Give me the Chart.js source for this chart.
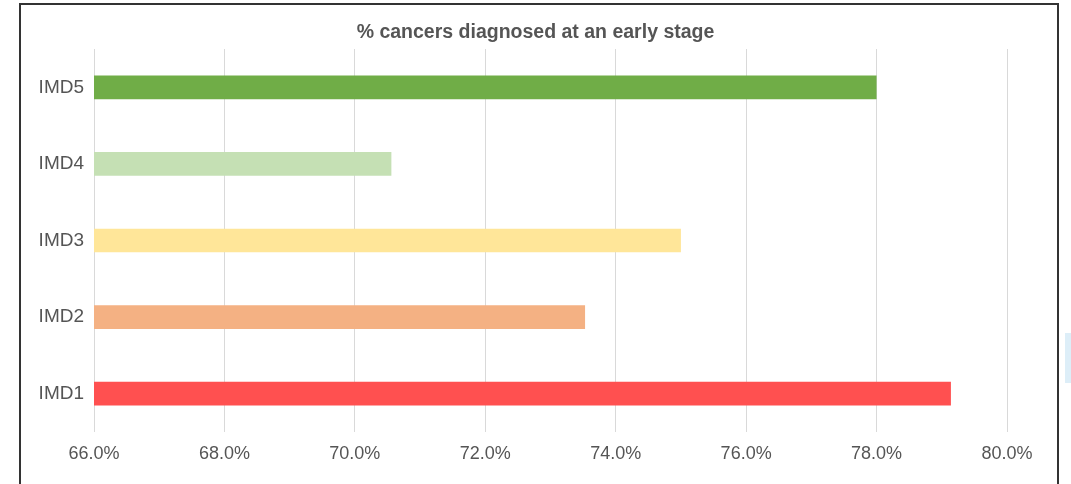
<!DOCTYPE html>
<html>
<head>
<meta charset="utf-8">
<script src="https://cdn.jsdelivr.net/npm/chart.js@4/dist/chart.umd.min.js"></script>
<style>
  html, body { margin: 0; padding: 0; background: #ffffff; overflow: hidden; }
  #wrap { position: absolute; left: 0; top: 0; width: 1071px; height: 484px; }
  #frame { position: absolute; left: 19px; top: 3px; width: 1036px; height: 500px; border: 2px solid #333; pointer-events: none; }
  #blue { position: absolute; left: 1065px; top: 333px; width: 6px; height: 50px; background: #ddeef8; }
</style>
</head>
<body>
<div id="wrap">
  <canvas id="c" width="1071" height="484"></canvas>
  <div id="frame"></div>
  <div id="blue"></div>
</div>
<script>
const title = '% cancers diagnosed at an early stage';
const categories = ['IMD5', 'IMD4', 'IMD3', 'IMD2', 'IMD1'];
const values = [78.0, 70.56, 75.0, 73.53, 79.14];
const barColors = ['#70AD47', '#C5E0B4', '#FFE699', '#F4B183', '#FF5050'];
const xMin = 66;
const xMax = 80;
const xStep = 2;

const FONT = 'Liberation Sans, Arial, sans-serif';

new Chart(document.getElementById('c'), {
  type: 'bar',
  data: {
    labels: categories,
    datasets: [{
      data: values,
      backgroundColor: barColors,
      borderWidth: 0,
      categoryPercentage: 1,
      barPercentage: 0.31
    }]
  },
  options: {
    indexAxis: 'y',
    responsive: false,
    animation: false,
    layout: { padding: 0 },
    plugins: {
      legend: { display: false },
      tooltip: { enabled: false },
      title: {
        display: true,
        text: title,
        color: '#555555',
        font: { family: FONT, size: 19.5, weight: 'bold' },
        padding: { top: 20.5, bottom: 5.1 }
      }
    },
    scales: {
      x: {
        min: xMin,
        max: xMax,
        ticks: {
          stepSize: xStep,
          padding: 11,
          color: '#555555',
          font: { family: FONT, size: 18 },
          maxRotation: 0,
          callback: v => Number(v).toFixed(1) + '%'
        },
        grid: { color: '#d9d9d9', drawTicks: false },
        border: { display: false },
        afterFit: s => { s.height = 52; }
      },
      y: {
        ticks: {
          padding: 10,
          color: '#555555',
          font: { family: FONT, size: 19 }
        },
        grid: { display: false, drawTicks: false },
        border: { display: false },
        afterFit: s => { s.width = 94; }
      },
      spacer: {
        type: 'linear',
        axis: 'y',
        position: 'right',
        display: true,
        ticks: { display: false },
        grid: { display: false, drawTicks: false },
        border: { display: false },
        afterFit: s => { s.width = 64; }
      }
    }
  }
});
</script>
</body>
</html>
